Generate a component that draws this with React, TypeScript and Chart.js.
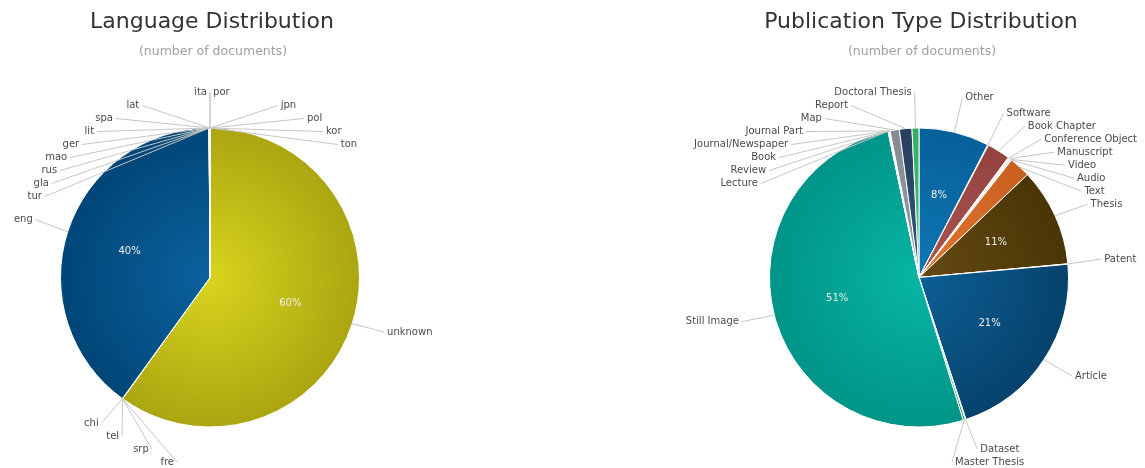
import React, { useEffect, useRef } from 'react';
import { Chart, registerables } from 'chart.js';

Chart.register(...registerables);

const FONT = '"DejaVu Sans", Verdana, sans-serif';

// ---------- Language distribution (clockwise from 12 o'clock) ----------
const langLabels = ['por', 'jpn', 'pol', 'kor', 'ton', 'unknown', 'fre', 'srp', 'tel', 'chi', 'eng', 'tur', 'gla', 'rus', 'mao', 'ger', 'lit', 'spa', 'lat', 'ita'];
const langCounts = [2, 3, 2, 3, 1, 11960, 2, 1, 1, 3, 7975, 1, 1, 2, 1, 4, 1, 3, 4, 2];
const langInner = ['#f4a262', '#8fd0e0', '#b7a3d6', '#e48c8c', '#9ed39a', '#d9d41d', '#a6c8e8', '#f2d28a', '#c3c3c3', '#e3a9c9', '#0b629e', '#9cc7b1', '#d8b28a', '#a9b6d9', '#c9d98f', '#e0b3b3', '#b3d3e3', '#d9c79a', '#c6b3e0', '#a8d8c0'];
const langOuter = ['#e08a48', '#74b8c9', '#9d88bf', '#cc7272', '#84bb80', '#aba511', '#8cb0d0', '#d9b870', '#a9a9a9', '#c98fb0', '#004677', '#82ad97', '#be9870', '#8f9cc0', '#afbf75', '#c69999', '#99b9c9', '#bfad80', '#ac99c6', '#8ebea6'];

// ---------- Publication type distribution (clockwise from 12 o'clock) ----------
const pubLabels = ['Other', 'Software', 'Book Chapter', 'Conference Object', 'Manuscript', 'Video', 'Audio', 'Text', 'Thesis', 'Patent', 'Article', 'Dataset', 'Master Thesis', 'Still Image', 'Lecture', 'Review', 'Book', 'Journal/Newspaper', 'Journal Part', 'Map', 'Report', 'Doctoral Thesis'];
const pubCounts = [760, 8, 250, 10, 12, 15, 6, 230, 1060, 5, 2130, 8, 22, 5140, 3, 4, 6, 5, 4, 100, 135, 75];
const pubInner = ['#0f77b4', '#9fb2c2', '#ad5552', '#dcc796', '#e9dcb4', '#f6eac6', '#f0d8a8', '#e2772f', '#654a12', '#dde3e8', '#0d5f95', '#7fb8a0', '#2f9e5c', '#07b5a5', '#c9d0d6', '#c9d0d6', '#c9d0d6', '#c9d0d6', '#c9d0d6', '#949da4', '#33547c', '#45c277'];
const pubOuter = ['#06609a', '#8799aa', '#944341', '#c6b07e', '#d6c89e', '#ebdcae', '#dcc290', '#c95f20', '#4a3506', '#c9d0d6', '#06426c', '#68a088', '#238a4c', '#009488', '#b4bcc3', '#b4bcc3', '#b4bcc3', '#b4bcc3', '#b4bcc3', '#838c93', '#273f60', '#36ad65'];

type PieProps = {
  labels: string[];
  counts: number[];
  inner: string[];
  outer: string[];
  title: string;
  subtitle: string;
  left: number;
  width: number;
  pad: { left: number; right: number; top: number; bottom: number };
};

function labelPlugin(title: string, subtitle: string) {
  return {
    id: 'pieLabels',
    afterDatasetsDraw(chart: any) {
      const ctx: CanvasRenderingContext2D = chart.ctx;
      const meta = chart.getDatasetMeta(0);
      const arcs = meta.data as any[];
      if (!arcs.length) return;
      const cx = arcs[0].x;
      const cy = arcs[0].y;
      const r = arcs[0].outerRadius;
      const R = r + 33.5;
      const values: number[] = chart.data.datasets[0].data;
      const total = values.reduce((a, b) => a + b, 0);
      const names: string[] = chart.data.labels;
      const H = chart.height;
      const spacing = 13;

      const items = arcs.map((arc, i) => {
        const a = (arc.startAngle + arc.endAngle) / 2;
        return {
          i,
          a,
          left: Math.cos(a) < 0,
          y: cy + R * Math.sin(a) - 2,
          ex: cx + r * Math.cos(a),
          ey: cy + r * Math.sin(a),
        };
      });

      for (const side of [true, false]) {
        const s = items.filter((it) => it.left === side).sort((p, q) => p.y - q.y);
        let prev = -Infinity;
        for (const it of s) {
          it.y = Math.max(it.y, prev + spacing);
          prev = it.y;
        }
        let next = H - 6;
        for (let k = s.length - 1; k >= 0; k--) {
          if (s[k].y > next) s[k].y = next;
          next = s[k].y - spacing;
        }
      }

      ctx.save();
      ctx.font = `10px ${FONT}`;
      ctx.textBaseline = 'middle';
      ctx.lineWidth = 1;
      for (const it of items) {
        const dy = Math.max(-R, Math.min(R - 3, it.y + 2 - cy));
        const dx = Math.sqrt(Math.max(0, R * R - dy * dy));
        const x = it.left ? cx - dx : cx + dx;
        ctx.strokeStyle = '#c6c6c6';
        ctx.beginPath();
        ctx.moveTo(x, it.y);
        ctx.lineTo(it.ex, it.ey);
        ctx.stroke();
        ctx.fillStyle = '#4a4a4a';
        ctx.textAlign = it.left ? 'right' : 'left';
        ctx.fillText(names[it.i], it.left ? x - 3 : x + 3, it.y);
      }

      // percentages inside the large slices
      ctx.fillStyle = '#f0f0f0';
      ctx.textAlign = 'center';
      for (const it of items) {
        const pct = (values[it.i] / total) * 100;
        if (pct < 5) continue;
        const d = r - 65;
        ctx.fillText(`${Math.round(pct)}%`, cx + d * Math.cos(it.a), cy + d * Math.sin(it.a));
      }

      // title & subtitle
      ctx.textBaseline = 'alphabetic';
      ctx.fillStyle = '#333333';
      ctx.font = `22px ${FONT}`;
      ctx.fillText(title, cx + 2, 27.5);
      ctx.fillStyle = '#a0a0a0';
      ctx.font = `12.5px ${FONT}`;
      ctx.fillText(subtitle, cx + 3, 55);
      ctx.restore();
    },
  };
}

function PieChart(props: PieProps) {
  const ref = useRef<HTMLCanvasElement>(null);
  useEffect(() => {
    if (!ref.current) return;
    const { labels, counts, inner, outer, title, subtitle, pad } = props;
    const shade = (c: any) => {
      const i = c.dataIndex;
      if (i === undefined) return inner[0];
      const area = c.chart.chartArea;
      if (!area) return inner[i];
      const x = (area.left + area.right) / 2;
      const y = (area.top + area.bottom) / 2;
      const g = c.chart.ctx.createRadialGradient(x, y, 0, x, y, 150);
      g.addColorStop(0, inner[i]);
      g.addColorStop(1, outer[i]);
      return g;
    };
    const chart = new Chart(ref.current, {
      type: 'pie',
      data: {
        labels,
        datasets: [
          {
            data: counts,
            backgroundColor: shade,
            borderColor: '#ffffff',
            borderWidth: 1,
            radius: 149.5,
          } as any,
        ],
      },
      options: {
        responsive: false,
        animation: false,
        devicePixelRatio: 1,
        layout: { padding: pad },
        plugins: {
          legend: { display: false },
          tooltip: { enabled: false },
          title: { display: false },
        },
      },
      plugins: [labelPlugin(title, subtitle)],
    });
    return () => chart.destroy();
  }, []);
  return (
    <canvas
      ref={ref}
      width={props.width}
      height={468}
      style={{ position: 'absolute', left: props.left, top: 0, width: props.width, height: 468 }}
    />
  );
}

export default function App() {
  return (
    <div style={{ position: 'fixed', left: 0, top: 0, width: 1145, height: 468, background: '#ffffff', overflow: 'hidden' }}>
      <PieChart
        labels={langLabels}
        counts={langCounts}
        inner={langInner}
        outer={langOuter}
        title="Language Distribution"
        subtitle="(number of documents)"
        left={0}
        width={572}
        pad={{ left: 60, right: 212, top: 127.5, bottom: 40.5 }}
      />
      <PieChart
        labels={pubLabels}
        counts={pubCounts}
        inner={pubInner}
        outer={pubOuter}
        title="Publication Type Distribution"
        subtitle="(number of documents)"
        left={572}
        width={573}
        pad={{ left: 197, right: 76, top: 127.5, bottom: 40.5 }}
      />
    </div>
  );
}
